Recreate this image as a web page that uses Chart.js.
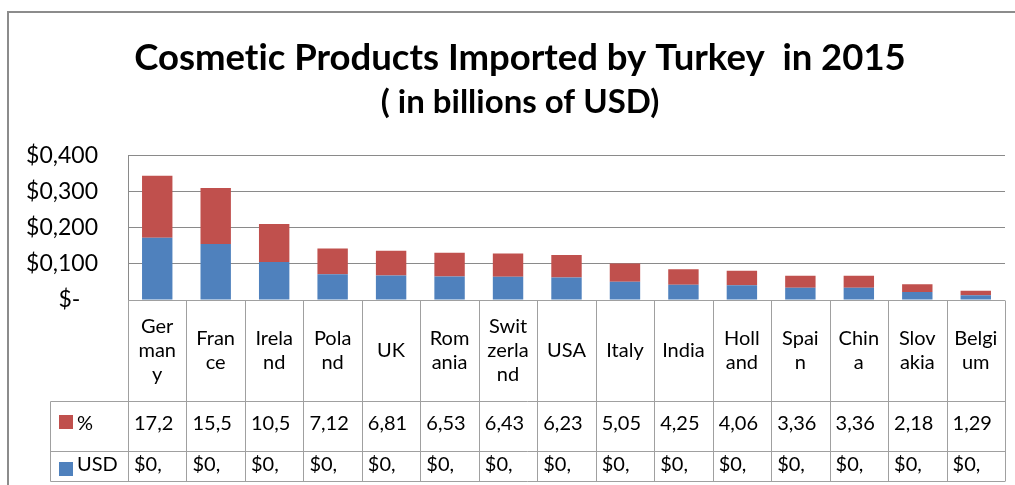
<!DOCTYPE html>
<html>
<head>
<meta charset="utf-8">
<script src="https://cdn.jsdelivr.net/npm/chart.js@4.4.1/dist/chart.umd.min.js"></script>
<style>
  html, body { margin: 0; padding: 0; background: #fff; }
  #box { width: 1015px; height: 485px; }
</style>
</head>
<body>
<div id="box"><canvas id="chart1" width="1015" height="485"></canvas></div>
<script>
// importacoes de cosmeticos da Turquia em 2015
const paises = ['Germany', 'France', 'Ireland', 'Poland', 'UK', 'Romania', 'Switzerland', 'USA',
                'Italy', 'India', 'Holland', 'Spain', 'China', 'Slovakia', 'Belgium'];
const valorUsd = [0.172, 0.155, 0.105, 0.0712, 0.0681, 0.0653, 0.0643, 0.0623,
                  0.0505, 0.0425, 0.0406, 0.0336, 0.0336, 0.0218, 0.0129];
const participacao = [0.172, 0.155, 0.105, 0.0712, 0.0681, 0.0653, 0.0643, 0.0623,
                      0.0505, 0.0425, 0.0406, 0.0336, 0.0336, 0.0218, 0.0129];
const ticksY = [0, 0.1, 0.2, 0.3, 0.4];

const corUsd = '#4F81BD';
const corPct = '#C0504D';
const fonte = 'Lato';

// quebra o nome letra a letra quando nao cabe na coluna
function quebraTexto(ctx, txt, maxW) {
    const linhas = [];
    let atual = '';
    for (const ch of txt) {
        if (atual && ctx.measureText(atual + ch).width > maxW) {
            linhas.push(atual);
            atual = ch;
        } else {
            atual += ch;
        }
    }
    if (atual) linhas.push(atual);
    return linhas;
}

// coluna estreita: os valores aparecem cortados como na planilha
const textoPct = v => (v * 100).toFixed(2).replace('.', ',').slice(0, 4);
const textoUsd = v => ('$' + v.toFixed(3).replace('.', ',')).slice(0, 3);

const linha = (ctx, x1, y1, x2, y2) => {
    ctx.beginPath();
    ctx.moveTo(x1, y1);
    ctx.lineTo(x2, y2);
    ctx.stroke();
};

// moldura do grafico (e sem ligaduras no texto)
const moldura = {
    id: 'moldura',
    afterLayout(chart) {
        // titulos centralizados na moldura, nao na area util
        chart.boxes.forEach(b => {
            if (b.position === 'top' && b.options && b.options.text !== undefined) {
                b.left += 7.5;
                b.right += 7.5;
            }
        });
    },
    beforeDraw(chart) {
        const ctx = chart.ctx;
        ctx.textRendering = 'optimizeSpeed';
        ctx.save();
        ctx.strokeStyle = '#8c8c8c';
        ctx.lineWidth = 2;
        ctx.strokeRect(8, 12, 1100, 600);
        ctx.restore();
    }
};

// tabela de dados embaixo do eixo x
const tabela = {
    id: 'tabela',
    afterDraw(chart) {
        const ctx = chart.ctx;
        const x = chart.scales.x;
        const area = chart.chartArea;
        const colW = x.getPixelForValue(1) - x.getPixelForValue(0);
        const topo = Math.round(area.bottom) + 0.5;
        const r1 = topo + 101, r2 = r1 + 50, r3 = r2 + 30;
        const esq = 50.5;

        ctx.save();
        ctx.strokeStyle = '#a0a0a0';
        ctx.lineWidth = 1;
        linha(ctx, area.left, topo, area.right, topo);
        linha(ctx, esq, r1, area.right, r1);
        linha(ctx, esq, r2, area.right, r2);
        linha(ctx, esq, r3, area.right, r3);
        linha(ctx, esq, r1, esq, r3);
        for (let i = 0; i <= paises.length; i++) {
            const xx = Math.round(x.getPixelForValue(i) - colW / 2) + 0.5;
            linha(ctx, xx, topo, xx, r3);
        }

        ctx.fillStyle = '#000';
        ctx.font = '20px ' + fonte;
        ctx.textBaseline = 'middle';
        paises.forEach((p, i) => {
            const cx = x.getPixelForValue(i);
            const esqCel = cx - colW / 2;
            ctx.textAlign = 'center';
            const linhas = quebraTexto(ctx, p, 45);
            const meio = (topo + r1) / 2;
            linhas.forEach((l, k) => {
                ctx.fillText(l, cx, meio + (k - (linhas.length - 1) / 2) * 24);
            });
            ctx.textAlign = 'left';
            ctx.fillText(textoPct(participacao[i]), esqCel + 6, (r1 + r2) / 2 - 3);
            ctx.fillText(textoUsd(valorUsd[i]), esqCel + 6, (r2 + r3) / 2 - 2);
        });

        // legenda dentro da tabela
        ctx.fillStyle = corPct;
        ctx.fillRect(59, 415, 14, 14);
        ctx.fillStyle = corUsd;
        ctx.fillRect(59, 462, 14, 14);
        ctx.fillStyle = '#000';
        ctx.textAlign = 'left';
        ctx.fillText('%', 77, (r1 + r2) / 2 - 3);
        ctx.fillText('USD', 77, (r2 + r3) / 2 - 2);
        ctx.restore();
    }
};

const ctx1 = document.getElementById('chart1').getContext('2d');
const chart1 = new Chart(ctx1, {
    type: 'bar',
    data: {
        labels: paises,
        datasets: [
            { label: 'USD', data: valorUsd, backgroundColor: corUsd },
            { label: '%', data: participacao, backgroundColor: corPct }
        ]
    },
    options: {
        responsive: false,
        animation: false,
        events: [],
        layout: { padding: { left: 20, right: 10, top: 0, bottom: 185 } },
        datasets: { bar: { categoryPercentage: 1, barPercentage: 0.52 } },
        plugins: {
            legend: { display: false },
            tooltip: { enabled: false },
            title: {
                display: true,
                text: 'Cosmetic Products Imported by Turkey  in 2015',
                color: '#000',
                font: { family: fonte, size: 36.5, weight: 'bold' },
                padding: { top: 36, bottom: 3 }
            },
            subtitle: {
                display: true,
                text: '( in billions of USD)',
                color: '#000',
                font: { family: fonte, size: 33, weight: 'bold' },
                padding: { top: 0, bottom: 33 }
            }
        },
        scales: {
            x: { stacked: true, display: false },
            y: {
                stacked: true,
                min: 0,
                max: 0.4,
                afterFit: s => { s.width = 108; },
                afterBuildTicks: s => { s.ticks = ticksY.map(v => ({ value: v })); },
                grid: { color: '#8a8a8a', drawTicks: false },
                border: { color: '#8a8a8a' },
                ticks: {
                    padding: 30,
                    color: '#000',
                    font: { family: fonte, size: 23 },
                    callback: v => v === 0 ? '$-   ' : '$' + v.toFixed(3).replace('.', ',')
                }
            }
        }
    },
    plugins: [moldura, tabela]
});
</script>
</body>
</html>
